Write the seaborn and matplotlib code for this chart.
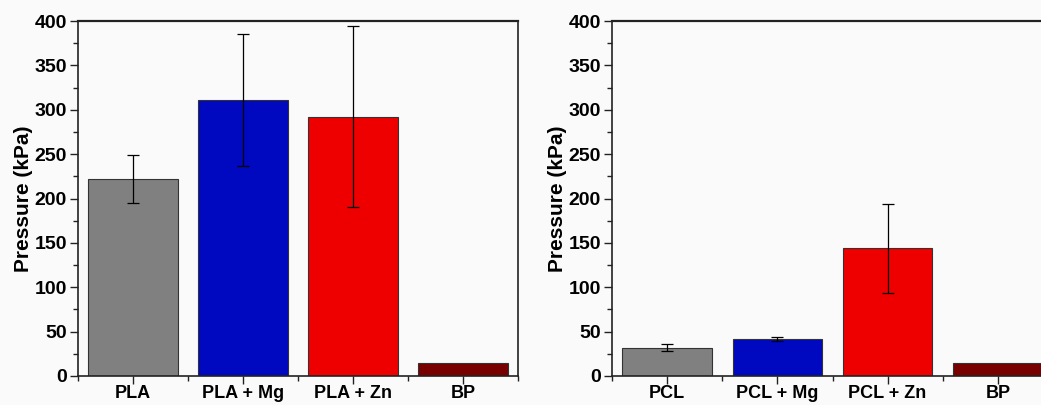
import matplotlib
matplotlib.use("Agg")
import matplotlib.pyplot as plt
import seaborn as sns
import numpy as np
import pandas as pd

left_cats = ["PLA", "PLA + Mg", "PLA + Zn", "BP"]
left_vals = [222, 311, 292, 15]
left_errs = [27, 74, 102, 0]

right_cats = ["PCL", "PCL + Mg", "PCL + Zn", "BP"]
right_vals = [32, 42, 144, 15]
right_errs = [3.5, 2.5, 50, 0]

colors = ["#808080", "#0008C0", "#EE0000", "#780000"]
yticks = [0, 50, 100, 150, 200, 250, 300, 350, 400]

sns.set_theme(style="white")
plt.rcParams['font.family'] = ['Liberation Sans', 'DejaVu Sans']
plt.rcParams['font.weight'] = 'bold'
plt.rcParams['text.color'] = 'black'
plt.rcParams['xtick.color'] = 'black'
plt.rcParams['ytick.color'] = 'black'
plt.rcParams['axes.labelcolor'] = 'black'

fig = plt.figure(figsize=(10.41, 4.05), dpi=100, facecolor="#fafafa")
ax1 = fig.add_axes([78/1041, 29/405, 440/1041, 355/405])
ax2 = fig.add_axes([612/1041, 29/405, 441/1041, 355/405])

for ax, cats, vals, errs in [(ax1, left_cats, left_vals, left_errs),
                             (ax2, right_cats, right_vals, right_errs)]:
    ax.set_facecolor("#fafafa")
    df = pd.DataFrame({"cat": cats, "val": vals})
    sns.barplot(data=df, x="cat", y="val", hue="cat", palette=colors,
                width=0.81, edgecolor="#333333", linewidth=0.8,
                legend=False, ax=ax, saturation=1)
    xs = np.arange(len(cats))
    e = np.array(errs, dtype=float)
    mask = e > 0
    ax.errorbar(xs[mask], np.array(vals)[mask], yerr=e[mask], fmt="none",
                ecolor="black", elinewidth=0.9, capsize=4, capthick=0.9)
    ax.set_ylim(0, 400)
    ax.set_xlim(-0.5, 3.5)
    ax.set_yticks(yticks)
    ax.set_yticklabels([str(t) for t in yticks], fontsize=14, fontweight="bold")
    ax.set_yticks(np.arange(25, 400, 50), minor=True)
    ax.set_xticks(xs)
    ax.set_xticklabels(cats, fontsize=13, fontweight="bold")
    ax.set_xticks([-0.5, 0.5, 1.5, 2.5, 3.5], minor=True)
    ax.set_xlabel("")
    ax.set_ylabel("Pressure (kPa)", fontsize=15, fontweight="bold", labelpad=1)
    ax.tick_params(axis="both", which="major", direction="out", length=6,
                   width=1, color="#222222", pad=2,
                   bottom=True, left=True)
    ax.tick_params(axis="x", which="major", pad=0.5)
    ax.tick_params(axis="both", which="minor", direction="out", length=3.5,
                   width=1, color="#222222", bottom=True, left=True)
    for s in ax.spines.values():
        s.set_visible(True)
        s.set_color("#222222")
        s.set_linewidth(1.2)
    ax.spines["top"].set_linewidth(1.6)

fig.savefig("out.png", dpi=100, facecolor=fig.get_facecolor())
